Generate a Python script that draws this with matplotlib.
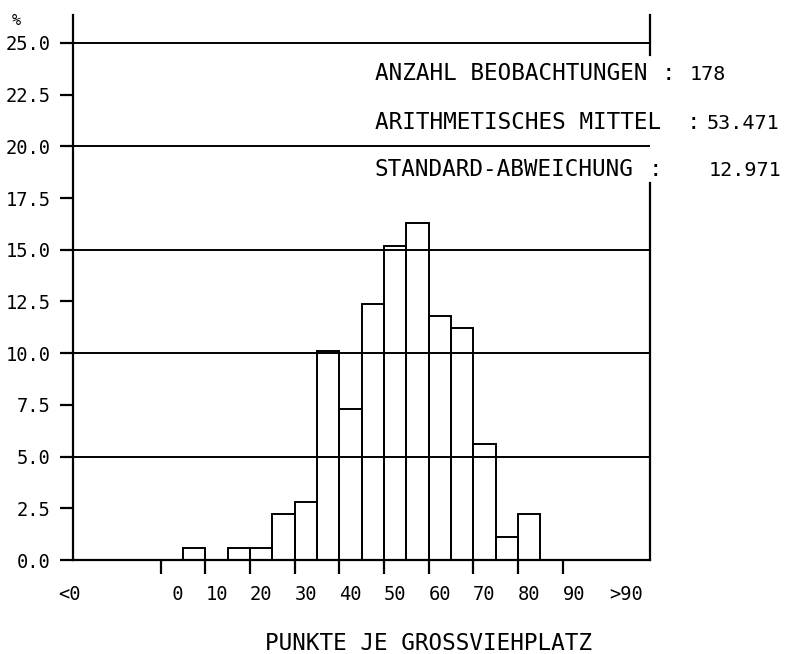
import numpy as np
import matplotlib
matplotlib.use("Agg")
import matplotlib.pyplot as plt
from matplotlib.transforms import blended_transform_factory

# Histogram of points per livestock place (class width 5)
bin_left = [0, 5, 10, 15, 20, 25, 30, 35, 40, 45, 50, 55, 60, 65, 70, 75, 80, 85]
counts = [0, 1, 0, 1, 1, 4, 5, 18, 13, 22, 27, 29, 21, 20, 10, 2, 4, 0]
bin_width = 5

tick_values = [0, 10, 20, 30, 40, 50, 60, 70, 80, 90]
tick_labels = [" 0", "10", "20", "30", "40", "50", "60", "70", "80", "90"]
y_ticks = [0.0, 2.5, 5.0, 7.5, 10.0, 12.5, 15.0, 17.5, 20.0, 22.5, 25.0]
hlines = [5, 10, 15, 20, 25]

mean_value = 53.471
std_value = 12.971

n_obs = int(np.sum(counts))
percent = np.array(counts) / n_obs * 100.0

W, H = 786, 654
MONO = "DejaVu Sans Mono"
plt.rcParams["font.family"] = MONO


def fx(x):
    return x / W


def fy(y):
    return 1 - y / H


fig = plt.figure(figsize=(W / 100, H / 100), dpi=100)
ax = fig.add_axes([fx(73.3), fy(560), (650 - 73.3) / W, (560 - 15) / H])
ax.set_xlim(-19.6, 109.6)
ax.set_ylim(0, 26.35)

lw_axis = 1.6
lw_line = 1.4

# horizontal reference lines
for h in hlines:
    ax.axhline(h, color="black", lw=lw_line, zorder=1)

# histogram bars (outline only)
ax.bar(bin_left, percent, width=bin_width, align="edge", fill=False,
       edgecolor="black", linewidth=lw_line, zorder=2)

# spines
for s in ("top", "right"):
    ax.spines[s].set_visible(False)
for s in ("left", "bottom"):
    ax.spines[s].set_linewidth(lw_axis)

# right boundary, interrupted behind the statistics block
ax.plot([109.6, 109.6], [0, 18.23], color="black", lw=lw_axis, clip_on=False)
ax.plot([109.6, 109.6], [24.42, 26.35], color="black", lw=lw_axis, clip_on=False)

# y axis
ax.set_yticks(y_ticks)
ax.set_yticklabels([f"{v:.1f}" for v in y_ticks], fontsize=13.5, family=MONO)
ax.tick_params(axis="y", direction="out", length=9.4, width=lw_axis, pad=7)

# x axis: ticks at class boundaries, labels left-aligned at the ticks
ax.set_xticks(tick_values)
ax.set_xticklabels([])
ax.tick_params(axis="x", direction="out", length=10, width=lw_axis)

tr = blended_transform_factory(ax.transData, fig.transFigure)
for v, lab in zip(tick_values, tick_labels):
    ax.text(v, fy(600), lab, transform=tr, ha="left", va="baseline",
            fontsize=13.5, family=MONO)
ax.text(-23, fy(600), "<0", transform=tr, ha="left", va="baseline",
        fontsize=13.5, family=MONO)
ax.text(100.5, fy(600), ">90", transform=tr, ha="left", va="baseline",
        fontsize=13.5, family=MONO)

# axis titles
fig.text(fx(16), fy(25), "%", ha="center", va="baseline", fontsize=11, family=MONO)
fig.text(fx(428.5), fy(650), "PUNKTE JE GROSSVIEHPLATZ", ha="center",
         va="baseline", fontsize=16.3, family=MONO)

# statistics block
rows = [
    ("ANZAHL BEOBACHTUNGEN", 668, f"{n_obs}", 690, 80),
    ("ARITHMETISCHES MITTEL", 693, f"{mean_value:.3f}", 707, 129),
    ("STANDARD-ABWEICHUNG", 655, f"{std_value:.3f}", 709, 176),
]
for label, colon_x, value, value_x, base_y in rows:
    fig.text(fx(375), fy(base_y), label, ha="left", va="baseline",
             fontsize=16.3, family=MONO)
    fig.text(fx(colon_x), fy(base_y), ":", ha="center", va="baseline",
             fontsize=16.3, family=MONO)
    fig.text(fx(value_x), fy(base_y), value, ha="left", va="baseline",
             fontsize=14.5, family=MONO)

fig.savefig("out.png", dpi=100, facecolor="white")
